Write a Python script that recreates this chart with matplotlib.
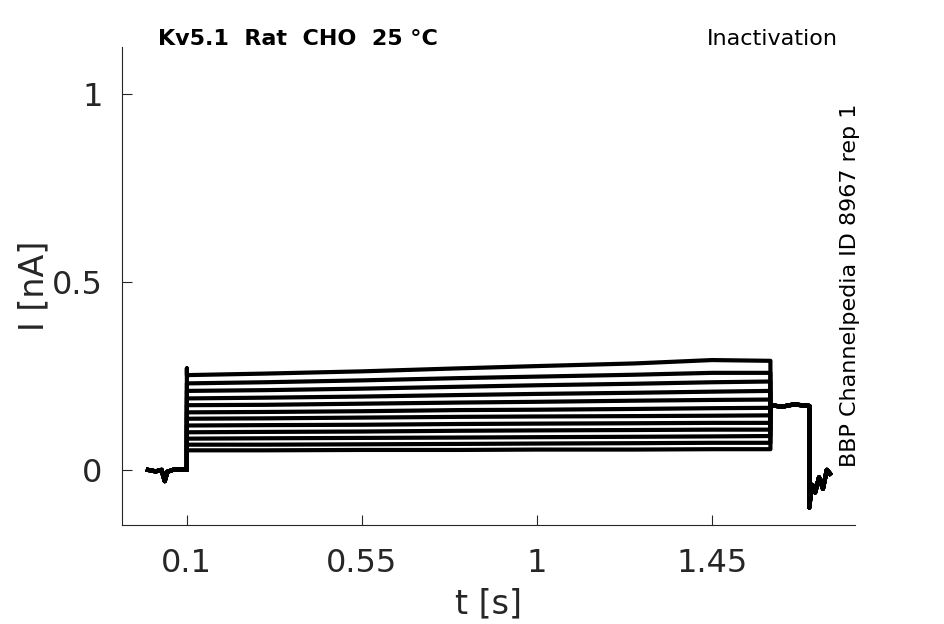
import matplotlib.pyplot as plt
import numpy as np

# holding current before the step (s, nA)
t_pre = [0.0, 0.02, 0.035, 0.043, 0.05, 0.07, 0.1]
i_pre = [0.0, -0.004, 0.0, -0.03, -0.005, 0.002, 0.0]

# step period: level of each trace at these times
t_step = [0.1, 0.3, 0.55, 0.8, 1.0, 1.25, 1.45, 1.6]
step_levels = [
    [0.252, 0.256, 0.262, 0.270, 0.276, 0.283, 0.292, 0.290],
    [0.230, 0.233, 0.238, 0.244, 0.248, 0.253, 0.258, 0.258],
    [0.210, 0.212, 0.216, 0.221, 0.225, 0.229, 0.233, 0.235],
    [0.190, 0.192, 0.195, 0.199, 0.202, 0.205, 0.208, 0.210],
    [0.172, 0.173, 0.176, 0.179, 0.181, 0.184, 0.186, 0.187],
    [0.153, 0.154, 0.156, 0.159, 0.160, 0.162, 0.164, 0.165],
    [0.136, 0.137, 0.139, 0.141, 0.142, 0.143, 0.144, 0.145],
    [0.118, 0.119, 0.120, 0.122, 0.123, 0.124, 0.125, 0.125],
    [0.100, 0.101, 0.102, 0.104, 0.105, 0.106, 0.107, 0.107],
    [0.083, 0.084, 0.085, 0.086, 0.087, 0.088, 0.089, 0.090],
    [0.067, 0.067, 0.068, 0.069, 0.070, 0.071, 0.072, 0.072],
    [0.052, 0.052, 0.053, 0.053, 0.054, 0.054, 0.055, 0.055],
]
spike = 0.27  # overshoot at the start of the step

# tail after the step
t_post = [1.6, 1.63, 1.66, 1.7, 1.7, 1.703, 1.708, 1.715, 1.725, 1.735, 1.745, 1.753]
i_post = [0.172, 0.168, 0.174, 0.17, -0.1, -0.07, -0.04, -0.06, -0.02, -0.05, 0.0, -0.01]

xticks = [0.1, 0.55, 1, 1.45]
xtick_labels = ['0.1', '0.55', '1', '1.45']
yticks = [0, 0.5, 1]
ytick_labels = ['0', '0.5', '1']

fig = plt.figure(figsize=(9.45, 6.24), dpi=100)
ax = fig.add_axes([0.129, 0.159, 0.776, 0.766])

for k, lev in enumerate(step_levels):
    t = list(t_pre) + [0.1] + t_step + t_post
    first = spike if k == 0 else lev[0]
    i = list(i_pre) + [first] + lev + i_post
    ax.plot(t, i, color='black', lw=3.0, solid_joinstyle='round')

ax.set_xlim(-0.067, 1.818)
ax.set_ylim(-0.146, 1.125)
ax.set_xticks(xticks)
ax.set_xticklabels(xtick_labels)
ax.set_yticks(yticks)
ax.set_yticklabels(ytick_labels)
ax.tick_params(direction='in', length=7, labelsize=23, colors='#262626', pad=14)
ax.tick_params(axis='x', pad=17)
for s in ['top', 'right']:
    ax.spines[s].set_visible(False)
for s in ['left', 'bottom']:
    ax.spines[s].set_color('#262626')
ax.set_xlabel('t [s]', fontsize=24, color='#262626', labelpad=6)
ax.set_ylabel('I [nA]', fontsize=24, color='#262626', labelpad=1)

fig.text(0.167, 0.9375, 'Kv5.1  Rat  CHO  25 °C', fontsize=16, fontweight='bold', va='center', ha='left')
fig.text(0.887, 0.9375, 'Inactivation', fontsize=16, va='center', ha='right')
fig.text(0.899, 0.542, 'BBP Channelpedia ID 8967 rep 1', fontsize=16, rotation=90, va='center', ha='center')

fig.savefig('out.png', dpi=100)
